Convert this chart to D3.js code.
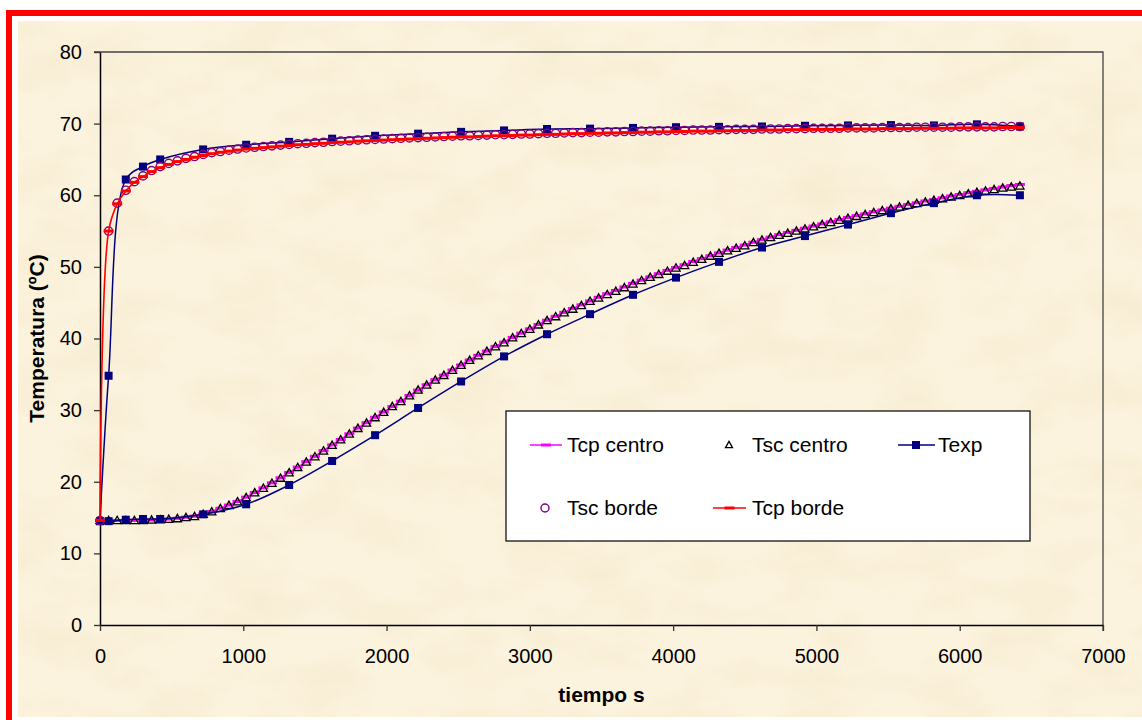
<!DOCTYPE html>
<html>
<head>
<meta charset="utf-8">
<script src="https://cdn.jsdelivr.net/npm/d3@7"></script>
<style>
  html, body { margin: 0; padding: 0; background: #fff; }
  svg { display: block; font-family: "Liberation Sans", Arial, sans-serif; }
</style>
</head>
<body>
<svg id="chart" width="1142" height="720"></svg>
<script>
// Simulation output times (s), one sample per minute
const tSim = [
  0, 60, 120, 180, 240, 300, 360, 420, 480, 540, 600, 660,
  720, 780, 840, 900, 960, 1020, 1080, 1140, 1200, 1260, 1320, 1380,
  1440, 1500, 1560, 1620, 1680, 1740, 1800, 1860, 1920, 1980, 2040, 2100,
  2160, 2220, 2280, 2340, 2400, 2460, 2520, 2580, 2640, 2700, 2760, 2820,
  2880, 2940, 3000, 3060, 3120, 3180, 3240, 3300, 3360, 3420, 3480, 3540,
  3600, 3660, 3720, 3780, 3840, 3900, 3960, 4020, 4080, 4140, 4200, 4260,
  4320, 4380, 4440, 4500, 4560, 4620, 4680, 4740, 4800, 4860, 4920, 4980,
  5040, 5100, 5160, 5220, 5280, 5340, 5400, 5460, 5520, 5580, 5640, 5700,
  5760, 5820, 5880, 5940, 6000, 6060, 6120, 6180, 6240, 6300, 6360, 6420
];

// Tcp centro (ºC)
const tcpCentro = [
  14.6, 14.6, 14.6, 14.6, 14.6, 14.6, 14.65, 14.7, 14.8, 14.9, 15.05, 15.2,
  15.5, 15.85, 16.3, 16.75, 17.25, 17.85, 18.5, 19.15, 19.85, 20.55, 21.3, 22.05,
  22.8, 23.55, 24.35, 25.15, 25.9, 26.7, 27.5, 28.25, 29.0, 29.75, 30.5, 31.25,
  32.05, 32.8, 33.55, 34.25, 34.9, 35.6, 36.3, 37.0, 37.65, 38.25, 38.9, 39.5,
  40.15, 40.75, 41.35, 41.95, 42.55, 43.1, 43.65, 44.2, 44.7, 45.25, 45.75, 46.25,
  46.7, 47.2, 47.7, 48.15, 48.6, 49.05, 49.5, 49.9, 50.3, 50.75, 51.15, 51.55,
  51.95, 52.35, 52.7, 53.05, 53.45, 53.8, 54.15, 54.5, 54.8, 55.1, 55.4, 55.7,
  56.0, 56.3, 56.6, 56.9, 57.15, 57.4, 57.7, 57.95, 58.2, 58.45, 58.7, 58.95,
  59.2, 59.4, 59.65, 59.9, 60.1, 60.35, 60.55, 60.75, 60.95, 61.15, 61.35, 61.5
];

// Tsc centro (ºC)
const tscCentro = [
  14.6, 14.6, 14.6, 14.6, 14.6, 14.6, 14.65, 14.7, 14.75, 14.85, 15.0, 15.15,
  15.45, 15.8, 16.25, 16.7, 17.2, 17.8, 18.45, 19.1, 19.8, 20.5, 21.25, 22.0,
  22.75, 23.5, 24.3, 25.1, 25.85, 26.65, 27.45, 28.2, 28.95, 29.7, 30.5, 31.2,
  32.0, 32.8, 33.5, 34.2, 34.85, 35.55, 36.25, 36.95, 37.6, 38.2, 38.85, 39.4,
  40.1, 40.7, 41.3, 41.9, 42.5, 43.05, 43.6, 44.1, 44.6, 45.2, 45.65, 46.15,
  46.6, 47.1, 47.6, 48.1, 48.55, 48.95, 49.4, 49.85, 50.2, 50.65, 51.05, 51.5,
  51.9, 52.25, 52.6, 52.95, 53.4, 53.75, 54.1, 54.4, 54.7, 55.0, 55.3, 55.6,
  55.9, 56.2, 56.5, 56.8, 57.05, 57.3, 57.6, 57.85, 58.1, 58.35, 58.6, 58.85,
  59.05, 59.3, 59.5, 59.75, 59.95, 60.2, 60.4, 60.6, 60.8, 61.0, 61.15, 61.3
];

// Tsc borde (ºC)
const tscBorde = [
  14.6, 55.0, 58.9, 60.7, 61.9, 62.7, 63.45, 64.0, 64.45, 64.8, 65.15, 65.4,
  65.7, 65.95, 66.1, 66.3, 66.45, 66.6, 66.7, 66.8, 66.9, 67.0, 67.1, 67.2,
  67.25, 67.35, 67.4, 67.5, 67.55, 67.6, 67.7, 67.75, 67.8, 67.85, 67.9, 67.95,
  68.0, 68.05, 68.1, 68.15, 68.2, 68.25, 68.3, 68.3, 68.35, 68.4, 68.45, 68.45,
  68.5, 68.55, 68.55, 68.6, 68.65, 68.65, 68.7, 68.75, 68.75, 68.8, 68.8, 68.85,
  68.85, 68.9, 68.9, 68.95, 68.95, 69.0, 69.0, 69.05, 69.05, 69.1, 69.1, 69.1,
  69.15, 69.15, 69.2, 69.2, 69.2, 69.25, 69.25, 69.25, 69.3, 69.3, 69.3, 69.35,
  69.35, 69.35, 69.35, 69.4, 69.4, 69.4, 69.4, 69.45, 69.45, 69.45, 69.45, 69.5,
  69.5, 69.5, 69.5, 69.5, 69.55, 69.55, 69.55, 69.55, 69.55, 69.6, 69.6, 69.6
];

// Tcp borde (ºC)
const tcpBorde = [
  14.6, 55.0, 58.8, 60.6, 61.8, 62.6, 63.3, 63.85, 64.3, 64.7, 65.0, 65.3,
  65.55, 65.8, 66.0, 66.15, 66.3, 66.45, 66.55, 66.65, 66.75, 66.85, 66.95, 67.05,
  67.1, 67.2, 67.25, 67.35, 67.4, 67.45, 67.55, 67.6, 67.65, 67.7, 67.75, 67.8,
  67.85, 67.9, 67.95, 68.0, 68.05, 68.1, 68.15, 68.15, 68.2, 68.25, 68.3, 68.3,
  68.35, 68.4, 68.4, 68.45, 68.5, 68.5, 68.55, 68.6, 68.6, 68.65, 68.65, 68.7,
  68.7, 68.75, 68.75, 68.8, 68.8, 68.85, 68.85, 68.9, 68.9, 68.95, 68.95, 68.95,
  69.0, 69.0, 69.05, 69.05, 69.05, 69.1, 69.1, 69.1, 69.15, 69.15, 69.15, 69.2,
  69.2, 69.2, 69.2, 69.25, 69.25, 69.25, 69.25, 69.3, 69.3, 69.3, 69.3, 69.35,
  69.35, 69.35, 69.35, 69.35, 69.4, 69.4, 69.4, 69.4, 69.4, 69.45, 69.45, 69.45
];

// Measured temperatures (Texp), centre and edge probes
const tExp = [0, 60, 180, 300, 420, 720, 1020, 1320, 1620, 1920, 2220, 2520, 2820,
              3120, 3420, 3720, 4020, 4320, 4620, 4920, 5220, 5520, 5820, 6120, 6420];
const texpBorde = [14.5, 34.8, 62.2, 64.0, 65.0, 66.4, 67.05, 67.45, 67.9, 68.3, 68.6, 68.85, 69.05,
                   69.25, 69.3, 69.4, 69.5, 69.55, 69.6, 69.7, 69.75, 69.8, 69.75, 69.9, 69.6];
const texpCentro = [14.5, 14.5, 14.7, 14.8, 14.8, 15.45, 16.85, 19.55, 22.9, 26.5, 30.3, 34.0, 37.5,
                    40.6, 43.4, 46.1, 48.5, 50.7, 52.7, 54.3, 55.9, 57.5, 58.9, 60.0, 60.0];

const xTicks = [0, 1000, 2000, 3000, 4000, 5000, 6000, 7000];
const yTicks = [0, 10, 20, 30, 40, 50, 60, 70, 80];

const C = { magenta: "#ff00ff", navy: "#000080", purple: "#800080", red: "#ff0000" };

const svg = d3.select("#chart");
const W = 1142, H = 720;

// ---- page frame and parchment background ----
const defs = svg.append("defs");
const paper = defs.append("filter").attr("id", "paper")
  .attr("x", 0).attr("y", 0).attr("width", "100%").attr("height", "100%");
paper.append("feTurbulence").attr("type", "fractalNoise")
  .attr("baseFrequency", "0.014 0.024").attr("numOctaves", 4).attr("seed", 11);
paper.append("feColorMatrix").attr("type", "matrix")
  .attr("values", "0 0 0 0 0.88  0 0 0 0 0.78  0 0 0 0 0.55  0.9 0 0 0 -0.36");

svg.append("rect").attr("x", 0).attr("y", 0).attr("width", W).attr("height", H).attr("fill", "#fff");
svg.append("rect").attr("x", 18).attr("y", 21).attr("width", W - 18).attr("height", 696).attr("fill", "#fcf3de");
svg.append("rect").attr("x", 18).attr("y", 21).attr("width", W - 18).attr("height", 696)
  .attr("fill", "#000").attr("filter", "url(#paper)");
// red border (left and top)
svg.append("rect").attr("x", 6).attr("y", 10).attr("width", 6).attr("height", H - 10).attr("fill", C.red);
svg.append("rect").attr("x", 6).attr("y", 10).attr("width", W - 6).attr("height", 6).attr("fill", C.red);

// ---- scales ----
const x = d3.scaleLinear().domain([0, 7000]).range([100, 1103]);
const y = d3.scaleLinear().domain([0, 80]).range([625, 52]);

// plot frame (top and right)
svg.append("path")
  .attr("d", `M${x(0) - 6},${y(80)}H${x(7000)}V${y(0) + 6}`)
  .attr("fill", "none").attr("stroke", "#444").attr("stroke-width", 1.3);

// ---- axes ----
const yAxis = svg.append("g").attr("transform", `translate(${x(0)},0)`)
  .call(d3.axisLeft(y).tickValues(yTicks).tickFormat(d3.format("d"))
    .tickSize(6).tickSizeOuter(0).tickPadding(12));
const xAxis = svg.append("g").attr("transform", `translate(0,${y(0)})`)
  .call(d3.axisBottom(x).tickValues(xTicks).tickFormat(d3.format("d"))
    .tickSize(6).tickSizeOuter(0).tickPadding(18));
[xAxis, yAxis].forEach(g => {
  g.select(".domain").attr("stroke", "#000").attr("stroke-width", 1.5);
  g.selectAll(".tick line").attr("stroke", "#333").attr("stroke-width", 1.3);
  g.selectAll(".tick text").attr("fill", "#000").style("font-size", "20px")
    .style("font-family", '"Liberation Sans", Arial, sans-serif');
});

svg.append("text").attr("x", (x(0) + x(7000)) / 2).attr("y", 702)
  .attr("text-anchor", "middle").style("font-size", "21px").style("font-weight", "bold")
  .text("tiempo s");
svg.append("text").attr("transform", `translate(44,${(y(0) + y(80)) / 2}) rotate(-90)`)
  .attr("text-anchor", "middle").style("font-size", "21px").style("font-weight", "bold")
  .text("Temperatura (ºC)");

// ---- marks ----
const line = d3.line().x(d => x(d[0])).y(d => y(d[1])).curve(d3.curveCatmullRom.alpha(0.5));
const plot = svg.append("g");

const triPath = "M0,-4.2L4.1,3.1L-4.1,3.1Z";

function drawLine(ts, vs, color, width) {
  plot.append("path").datum(d3.zip(ts, vs)).attr("d", line)
    .attr("fill", "none").attr("stroke", color).attr("stroke-width", width);
}
function drawDashes(ts, vs, color) {
  plot.append("g").selectAll("rect").data(d3.zip(ts, vs)).join("rect")
    .attr("x", d => x(d[0]) - 5).attr("y", d => y(d[1]) - 1.5)
    .attr("width", 10).attr("height", 3).attr("fill", color);
}
function drawSquares(ts, vs) {
  plot.append("g").selectAll("rect").data(d3.zip(ts, vs)).join("rect")
    .attr("x", d => x(d[0]) - 4).attr("y", d => y(d[1]) - 4)
    .attr("width", 8).attr("height", 8).attr("fill", C.navy);
}

// Tcp centro
drawLine(tSim, tcpCentro, C.magenta, 1.6);
drawDashes(tSim, tcpCentro, C.magenta);
// Tsc centro
plot.append("g").selectAll("path").data(d3.zip(tSim, tscCentro)).join("path")
  .attr("d", triPath).attr("transform", d => `translate(${x(d[0])},${y(d[1])})`)
  .attr("fill", "none").attr("stroke", "#000").attr("stroke-width", 1.3);
// Texp (both probes)
drawLine(tExp, texpCentro, C.navy, 1.5);
drawLine(tExp, texpBorde, C.navy, 1.5);
drawSquares(tExp, texpCentro);
drawSquares(tExp, texpBorde);
// Tsc borde
plot.append("g").selectAll("circle").data(d3.zip(tSim, tscBorde)).join("circle")
  .attr("cx", d => x(d[0])).attr("cy", d => y(d[1])).attr("r", 4.1)
  .attr("fill", "none").attr("stroke", C.purple).attr("stroke-width", 1.4);
// Tcp borde
drawLine(tSim, tcpBorde, C.red, 1.6);
drawDashes(tSim, tcpBorde, C.red);

// ---- legend ----
const lg = svg.append("g");
lg.append("rect").attr("x", 506).attr("y", 411).attr("width", 524).attr("height", 130)
  .attr("fill", "#fff").attr("stroke", "#000").attr("stroke-width", 1.2);
const legFont = "21px";
function legText(tx, ty, s) {
  lg.append("text").attr("x", tx).attr("y", ty).attr("dy", "0.35em")
    .style("font-size", legFont).attr("fill", "#000").text(s);
}
function legLine(x1, x2, ly, color) {
  lg.append("line").attr("x1", x1).attr("x2", x2).attr("y1", ly).attr("y2", ly)
    .attr("stroke", color).attr("stroke-width", 1.5);
}
// Tcp centro
legLine(530, 562, 445, C.magenta);
lg.append("rect").attr("x", 541).attr("y", 443.5).attr("width", 10).attr("height", 3).attr("fill", C.magenta);
legText(567, 445, "Tcp centro");
// Tsc centro
lg.append("path").attr("d", "M0,-3.6L3.5,2.7L-3.5,2.7Z").attr("transform", "translate(729,445)")
  .attr("fill", "none").attr("stroke", "#000").attr("stroke-width", 1.3);
legText(752, 445, "Tsc centro");
// Texp
legLine(898, 935, 445, C.navy);
lg.append("rect").attr("x", 912).attr("y", 441).attr("width", 8).attr("height", 8).attr("fill", C.navy);
legText(938, 445, "Texp");
// Tsc borde
lg.append("circle").attr("cx", 545).attr("cy", 508).attr("r", 4).attr("fill", "none")
  .attr("stroke", C.purple).attr("stroke-width", 1.4);
legText(567, 508, "Tsc borde");
// Tcp borde
legLine(713, 746, 508, C.red);
lg.append("rect").attr("x", 724.5).attr("y", 506.5).attr("width", 10).attr("height", 3).attr("fill", C.red);
legText(752, 508, "Tcp borde");
</script>
</body>
</html>
